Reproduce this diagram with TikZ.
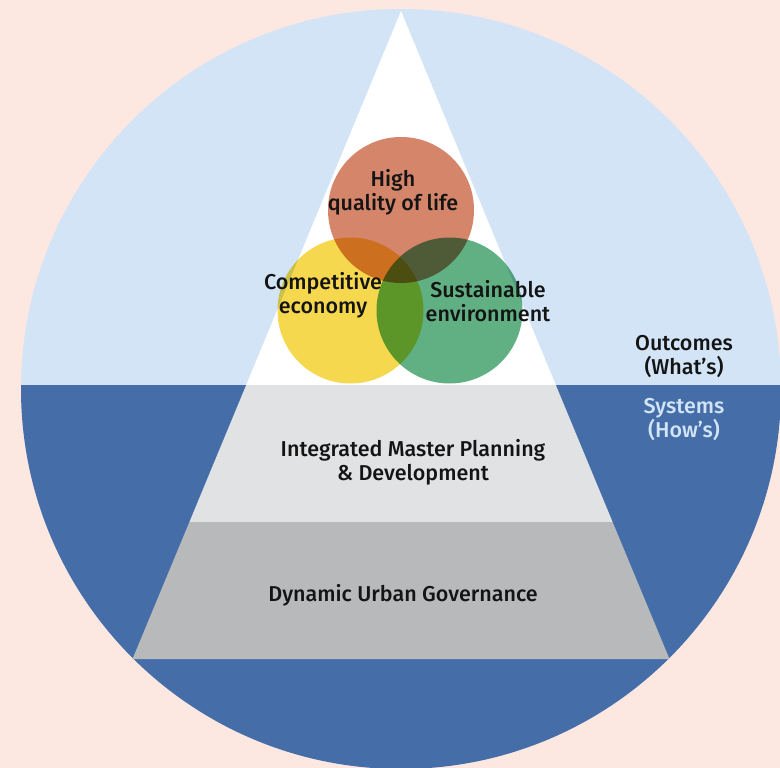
\documentclass[tikz,border=0pt]{standalone}
\usepackage{fontspec}
\setmainfont{Fira Sans}[UprightFont=* Medium]
\definecolor{bgpink}{HTML}{FDE7E1}
\definecolor{skyblue}{HTML}{D2E4F6}
\definecolor{deepblue}{HTML}{456EA8}
\definecolor{greylight}{HTML}{E1E2E4}
\definecolor{greymid}{HTML}{B8B9BB}
\definecolor{lifeorange}{HTML}{D4856A}
\definecolor{econyellow}{HTML}{F6D84E}
\definecolor{envgreen}{HTML}{60B084}
\definecolor{inkdark}{HTML}{141414}
\begin{document}
\begin{tikzpicture}[x=1pt,y=-1pt,
    lbl/.style={align=center,inner sep=0pt,text=inkdark,font=\fontsize{21.5}{24}\selectfont},
    venn/.style={blend mode=multiply}]
    \clip (0,0) rectangle (780,768);
    \fill[bgpink] (0,0) rectangle (780,768);
    \begin{scope}
        \clip (0,0) rectangle (780,385);
        \fill[skyblue] (401,389) circle[radius=380pt];
    \end{scope}
    \begin{scope}
        \clip (0,385) rectangle (780,768);
        \fill[deepblue] (401,389) circle[radius=380pt];
    \end{scope}
    \fill[white] (401,11) -- (555.8,385) -- (246.2,385) -- cycle;
    \fill[greylight] (246.2,385) -- (555.8,385) -- (612.6,522) -- (189.4,522) -- cycle;
    \fill[greymid] (189.4,522) -- (612.6,522) -- (669.5,659) -- (132.5,659) -- cycle;
    \fill[lifeorange, venn] (401,210) circle[radius=73pt];
    \fill[econyellow, venn] (350.5,310.5) circle[radius=73pt];
    \fill[envgreen, venn] (449.5,310.5) circle[radius=73pt];
    \node[lbl] (life) at (393,192) {High\\quality of life};
    \node[lbl] (econ) at (323,295) {Competitive\\economy};
    \node[lbl] (env) at (488,301) {Sustainable\\environment};
    \node[lbl] (whats) at (684,357) {Outcomes\\(What’s)};
    \node[lbl, text=skyblue] (hows) at (684,420) {Systems\\(How’s)};
    \node[lbl] (plan) at (413,462) {Integrated Master Planning\\\& Development};
    \node[lbl] (gov) at (403,595) {Dynamic Urban Governance};
\end{tikzpicture}
\end{document}
